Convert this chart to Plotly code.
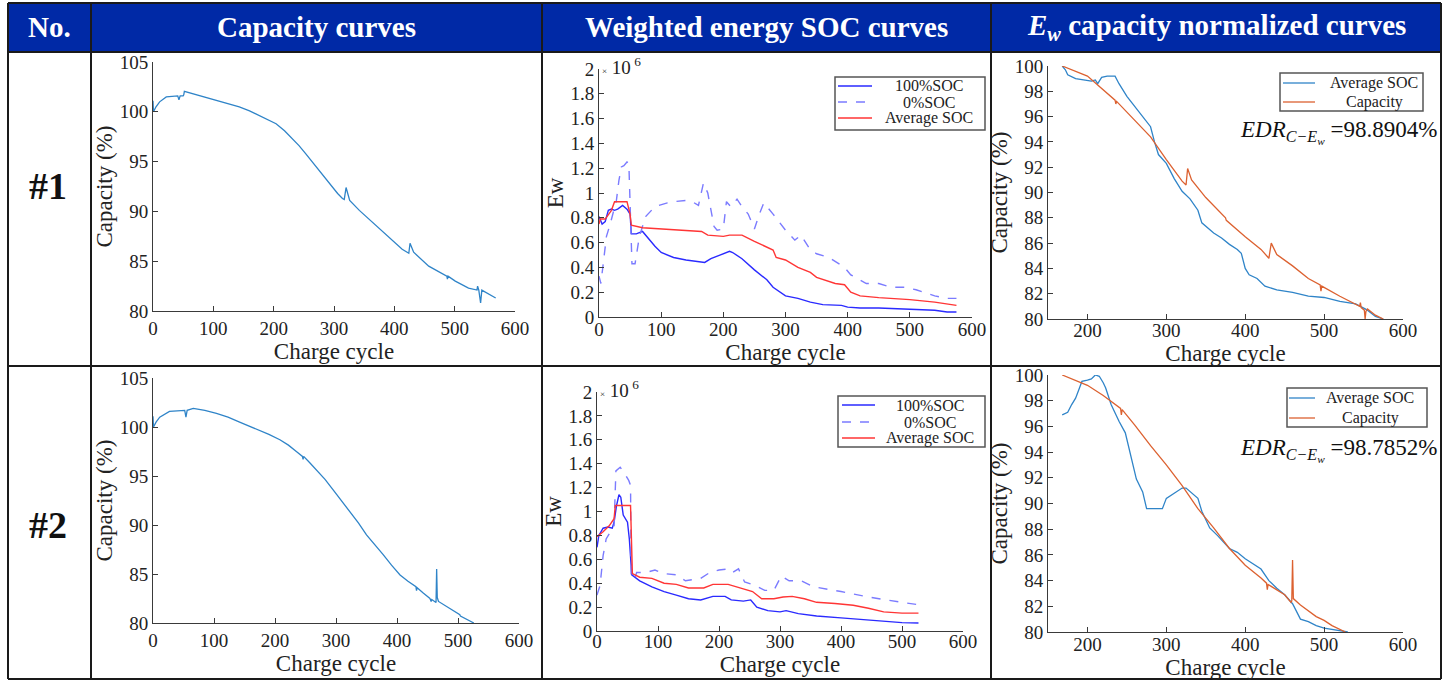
import plotly.graph_objects as go

W, H = 1453, 681

# ---------------- data ----------------
headers = ["No.", "Capacity curves", "Weighted energy SOC curves",
           "<i>E<sub>w</sub></i> capacity normalized curves"]
row_labels = ["#1", "#2"]
ew_names = ["100%SOC", "0%SOC", "Average SOC"]
norm_names = ["Average SOC", "Capacity"]

# Panel: capacity curves (%)
cap1_cycle = [0, 0.8, 5, 11, 22, 35, 41, 43, 45, 50, 51, 52, 61, 80, 105, 125, 143, 160, 176, 190,
              204, 218, 231, 242, 253, 264, 275.5, 286, 297.5, 306, 314, 317, 320, 323, 326, 342,
              369, 391, 413, 424, 426, 428, 432, 457, 487, 488, 489, 501, 523, 537, 538, 540, 543,
              545, 556, 568]
cap1_val = [101.1, 100.0, 100.5, 101.0, 101.5, 101.6, 101.6, 101.2, 101.6, 101.6, 101.7, 102.05,
            101.9, 101.6, 101.2, 100.85, 100.5, 100.1, 99.65, 99.25, 98.8, 98.1, 97.3, 96.6, 95.8,
            94.95, 94.1, 93.25, 92.4, 91.8, 91.3, 91.2, 92.4, 91.6, 91.1, 90.1, 88.6, 87.4, 86.2,
            85.8, 86.8, 86.5, 85.9, 84.5, 83.5, 83.2, 83.5, 83.0, 82.3, 82.1, 82.5, 82.1, 80.8,
            82.1, 81.7, 81.3]

cap2_cycle = [0, 0.8, 5, 11, 27, 45, 52, 54, 56, 66, 85, 104, 123, 142, 158, 175, 190, 208, 222,
              235, 245, 246, 247, 257, 268, 282, 295, 309, 323, 337, 350, 364, 377, 391, 405, 418,
              431, 432, 433, 443, 454, 456, 457, 464, 465, 466, 468, 486, 503, 504, 514, 526]
cap2_val = [101.1, 100.0, 100.5, 101.0, 101.6, 101.7, 101.7, 101.0, 101.7, 101.9, 101.7, 101.4,
            101.0, 100.5, 100.1, 99.7, 99.25, 98.7, 98.15, 97.5, 97.0, 96.7, 97.0, 96.35, 95.6,
            94.65, 93.6, 92.5, 91.4, 90.2, 89.0, 88.0, 87.0, 85.9, 84.9, 84.25, 83.7, 83.3, 83.6,
            83.05, 82.5, 82.2, 82.4, 82.1, 85.5, 82.6, 82.2, 81.5, 80.85, 80.7, 80.4, 80.0]

# Panel: weighted energy SOC curves (x10^6)
ew1_100_cycle = [0, 5, 10, 15, 20, 25, 30, 38, 45, 50, 52, 60, 70, 80, 90, 100, 120, 140, 160, 170,
                 180, 200, 210, 215, 230, 250, 270, 280, 300, 320, 340, 360, 390, 400, 420, 450,
                 500, 540, 560, 575]
ew1_100 = [0.81, 0.75, 0.77, 0.86, 0.87, 0.86, 0.87, 0.90, 0.87, 0.83, 0.67, 0.67, 0.69, 0.63,
           0.57, 0.52, 0.48, 0.46, 0.45, 0.44, 0.47, 0.51, 0.53, 0.52, 0.47, 0.38, 0.30, 0.24,
           0.17, 0.15, 0.12, 0.10, 0.094, 0.08, 0.073, 0.073, 0.062, 0.054, 0.04, 0.04]
ew1_0_cycle = [0, 3, 8, 12, 18, 22, 28, 32, 36, 40, 45, 48, 50, 53, 58, 65, 75, 90, 110, 120, 140,
               150, 160, 168, 175, 185, 190, 200, 205, 212, 222, 230, 240, 250, 258, 265, 280,
               300, 315, 325, 340, 350, 370, 385, 395, 405, 430, 450, 470, 490, 510, 540, 560, 575]
ew1_0 = [0.33, 0.27, 0.48, 0.65, 0.75, 0.83, 0.94, 1.10, 1.21, 1.22, 1.25, 1.24, 0.97, 0.43, 0.43,
         0.65, 0.81, 0.89, 0.92, 0.93, 0.94, 0.93, 0.90, 1.08, 1.00, 0.73, 0.70, 0.71, 0.93, 0.89,
         0.95, 0.89, 0.83, 0.71, 0.83, 0.92, 0.83, 0.70, 0.62, 0.66, 0.54, 0.51, 0.48, 0.43, 0.40,
         0.34, 0.27, 0.27, 0.24, 0.24, 0.22, 0.17, 0.15, 0.15]
ew1_avg_cycle = [0, 2, 10, 20, 25, 45, 50, 52, 70, 100, 150, 165, 175, 200, 210, 230, 250, 280, 285,
                 300, 320, 340, 350, 380, 395, 405, 420, 450, 500, 540, 575]
ew1_avg = [0.75, 0.79, 0.79, 0.86, 0.93, 0.93, 0.83, 0.74, 0.72, 0.71, 0.69, 0.69, 0.66, 0.65,
           0.66, 0.66, 0.61, 0.54, 0.48, 0.46, 0.40, 0.36, 0.32, 0.27, 0.26, 0.20, 0.17, 0.156,
           0.14, 0.12, 0.094]

ew2_100_cycle = [0, 3, 10, 18, 25, 28, 32, 36, 39, 43, 50, 53, 57, 70, 90, 110, 130, 150, 170, 190,
                 210, 220, 240, 252, 262, 280, 300, 310, 330, 360, 400, 450, 500, 527]
ew2_100 = [0.70, 0.80, 0.86, 0.87, 0.86, 0.91, 1.05, 1.14, 1.12, 0.97, 0.91, 0.77, 0.47, 0.42,
           0.37, 0.33, 0.30, 0.27, 0.26, 0.29, 0.29, 0.26, 0.25, 0.26, 0.20, 0.17, 0.16, 0.17,
           0.145, 0.125, 0.11, 0.09, 0.07, 0.067]
ew2_0_cycle = [0, 5, 10, 15, 22, 28, 31, 38, 45, 52, 55, 56, 62, 65, 80, 95, 110, 130, 145, 170,
               185, 200, 215, 222, 232, 242, 260, 275, 290, 302, 315, 335, 355, 380, 400, 420,
               450, 500, 527]
ew2_0 = [0.30, 0.38, 0.63, 0.77, 0.83, 0.88, 1.34, 1.37, 1.32, 1.26, 1.22, 0.44, 0.44, 0.49, 0.49,
         0.51, 0.48, 0.47, 0.42, 0.44, 0.49, 0.51, 0.52, 0.49, 0.52, 0.41, 0.38, 0.34, 0.34, 0.46,
         0.42, 0.42, 0.37, 0.35, 0.33, 0.31, 0.28, 0.24, 0.22]
ew2_avg_cycle = [0, 10, 20, 28, 30, 55, 58, 70, 90, 110, 130, 150, 175, 190, 215, 235, 255, 270,
                 290, 305, 320, 340, 360, 390, 420, 445, 470, 500, 527]
ew2_avg = [0.79, 0.83, 0.88, 0.94, 1.05, 1.05, 0.48, 0.45, 0.44, 0.40, 0.39, 0.36, 0.36, 0.39,
           0.39, 0.36, 0.33, 0.27, 0.27, 0.285, 0.29, 0.27, 0.24, 0.23, 0.215, 0.19, 0.16, 0.15,
           0.15]

# Panel: Ew capacity normalized curves (%)
n1_avg_cycle = [168, 172, 175, 185, 195, 205, 210, 213, 218, 225, 235, 240, 250, 260, 270, 280, 285,
                290, 300, 310, 320, 330, 340, 345, 360, 370, 380, 390, 395, 400, 405, 415, 425,
                440, 460, 480, 500, 520, 540, 555, 565, 575]
n1_avg = [100.0, 99.7, 99.3, 99.0, 98.9, 98.8, 98.9, 98.6, 99.1, 99.2, 99.2, 98.6, 97.6, 96.8,
          96.0, 95.2, 94.0, 93.0, 92.3, 91.1, 90.1, 89.5, 88.6, 87.6, 86.8, 86.4, 85.9, 85.5,
          85.2, 84.0, 83.5, 83.2, 82.6, 82.3, 82.1, 81.8, 81.7, 81.4, 81.2, 80.7, 80.2, 80.0]
n1_cap_cycle = [168, 200, 235, 236, 237, 260, 280, 300, 320, 325, 327, 332, 350, 375, 376, 400,
                420, 430, 433, 440, 460, 480, 495, 496, 497, 520, 545, 546, 547, 551, 552, 553,
                555, 565, 575]
n1_cap = [100.0, 99.2, 97.3, 97.0, 97.2, 95.7, 94.4, 92.6, 90.9, 90.6, 91.9, 91.0, 89.6, 88.0,
          87.8, 86.5, 85.5, 84.8, 86.0, 85.1, 84.2, 83.2, 82.7, 82.2, 82.6, 81.8, 81.0, 81.3,
          80.9, 80.7, 80.0, 80.6, 80.8, 80.3, 80.0]

n2_avg_cycle = [168, 175, 180, 185, 190, 193, 200, 205, 210, 215, 220, 223, 230, 240, 248, 255, 262,
                270, 275, 295, 300, 310, 320, 325, 340, 345, 355, 365, 380, 390, 400, 420, 430,
                440, 450, 460, 470, 480, 490, 500, 520, 530]
n2_avg = [96.9, 97.1, 97.7, 98.2, 99.0, 99.5, 99.6, 99.7, 100.0, 99.9, 99.4, 99.0, 97.7, 96.4,
          95.5, 93.8, 91.9, 90.9, 89.6, 89.6, 90.4, 90.8, 91.2, 91.2, 90.4, 89.4, 88.1, 87.5,
          86.5, 86.2, 85.7, 84.9, 84.0, 83.4, 82.9, 82.2, 81.0, 80.8, 80.5, 80.3, 80.1, 80.0]
n2_cap_cycle = [168, 200, 220, 242, 243, 244, 260, 280, 300, 320, 340, 360, 380, 400, 420, 427,
                428, 429, 450, 458, 459, 460, 461, 470, 490, 500, 510, 527]
n2_cap = [100.0, 99.2, 98.4, 97.4, 96.9, 97.3, 96.1, 94.5, 93.0, 91.4, 89.6, 88.1, 86.5, 85.2,
          84.2, 83.8, 83.3, 83.7, 82.9, 82.3, 82.4, 85.6, 82.6, 82.1, 81.2, 80.9, 80.5, 80.0]

edr_values = ["98.8904%", "98.7852%"]

# ---------------- helpers ----------------
def fx(px):
    return px / W

def fy(py):
    return 1 - py / H

SERIF = "Liberation Serif"
AXC = "#3a3a3a"

def axis(d0, d1, rng, dtick, title, anchor, standoff, label_shift=None):
    a = dict(
        domain=[d0, d1], range=rng, dtick=dtick, tick0=0, anchor=anchor,
        showline=True, linecolor=AXC, linewidth=1, mirror=False,
        ticks="inside", ticklen=5, tickcolor=AXC, tickwidth=1,
        showgrid=False, zeroline=False, fixedrange=True,
        tickfont=dict(family=SERIF, size=19, color="#222"),
        title=dict(text=title, font=dict(family=SERIF, size=23, color="#222"),
                   standoff=standoff),
        automargin=False,
    )
    if label_shift is not None:
        a["ticklabelstandoff"] = label_shift
    return a

fig = go.Figure()

CAP_BLUE = "#2f84c8"
ORANGE = "#dc6130"
BLUE = "#2a2aff"
LBLUE = "#7b7bff"
RED = "#ff3535"
ew_styles = [dict(color=BLUE, width=1.4), dict(color=LBLUE, width=1.4, dash="dash"),
             dict(color=RED, width=1.4)]
norm_styles = [dict(color=CAP_BLUE, width=1.3), dict(color=ORANGE, width=1.3)]

def add(x, y, line, ax):
    fig.add_trace(go.Scatter(x=x, y=y, mode="lines", line=line, xaxis="x" + ax, yaxis="y" + ax,
                             showlegend=False, hoverinfo="x+y"))

add(cap1_cycle, cap1_val, dict(color=CAP_BLUE, width=1.3), "")
for (cx, cy), st in zip([(ew1_100_cycle, ew1_100), (ew1_0_cycle, ew1_0), (ew1_avg_cycle, ew1_avg)], ew_styles):
    add(cx, cy, st, "2")
for (cx, cy), st in zip([(n1_avg_cycle, n1_avg), (n1_cap_cycle, n1_cap)], norm_styles):
    add(cx, cy, st, "3")
add(cap2_cycle, cap2_val, dict(color=CAP_BLUE, width=1.3), "4")
for (cx, cy), st in zip([(ew2_100_cycle, ew2_100), (ew2_0_cycle, ew2_0), (ew2_avg_cycle, ew2_avg)], ew_styles):
    add(cx, cy, st, "5")
for (cx, cy), st in zip([(n2_avg_cycle, n2_avg), (n2_cap_cycle, n2_cap)], norm_styles):
    add(cx, cy, st, "6")

layout = dict(
    width=W, height=H, margin=dict(l=0, r=0, t=0, b=0),
    paper_bgcolor="white", plot_bgcolor="white", showlegend=False,
    font=dict(family=SERIF, color="#222"),
    xaxis=axis(fx(153), fx(515), [0, 600], 100, "Charge cycle", "y", 0, 0),
    yaxis=axis(fy(311), fy(62), [80, 105], 5, "Capacity (%)", "x", 0),
    xaxis2=axis(fx(599), fx(972), [0, 600], 100, "Charge cycle", "y2", 0, -5),
    yaxis2=axis(fy(317), fy(69), [0, 2], 0.2, "Ew", "x2", 0),
    xaxis3=axis(fx(1048), fx(1403), [150, 600], 100, "Charge cycle", "y3", 0, -6),
    yaxis3=axis(fy(319), fy(66), [80, 100], 2, "Capacity (%)", "x3", 0),
    xaxis4=axis(fx(153), fx(519), [0, 600], 100, "Charge cycle", "y4", 0, 0),
    yaxis4=axis(fy(623), fy(378), [80, 105], 5, "Capacity (%)", "x4", 0),
    xaxis5=axis(fx(597), fx(963), [0, 600], 100, "Charge cycle", "y5", 1, -7),
    yaxis5=axis(fy(631), fy(392), [0, 2], 0.2, "Ew", "x5", 0),
    xaxis6=axis(fx(1048), fx(1403), [150, 600], 100, "Charge cycle", "y6", 0, -5),
    yaxis6=axis(fy(632), fy(375), [80, 100], 2, "Capacity (%)", "x6", 0),
)
fig.update_layout(**layout)

# ---------------- table frame ----------------
L, R, T, HB, RB, B = 8, 1441, 3, 52, 366, 679
cols = [L, 91, 542, 991, R]
shapes = [dict(type="rect", xref="paper", yref="paper", x0=fx(L), x1=fx(R), y0=fy(HB), y1=fy(T),
               fillcolor="#0029a6", line=dict(width=0), layer="below")]
LINE = dict(color="#1a1a1a", width=2)
for c in cols:
    shapes.append(dict(type="line", xref="paper", yref="paper", x0=fx(c), x1=fx(c), y0=fy(B), y1=fy(T),
                       line=LINE))
for r in [T, HB, RB, B]:
    shapes.append(dict(type="line", xref="paper", yref="paper", x0=fx(L), x1=fx(R), y0=fy(r), y1=fy(r),
                       line=LINE))

ann = []

# ---------------- legends (box, line samples, centred labels) ----------------
def legend(box, sample_x, text_cx, rows, names, styles):
    x0, y0, x1, y1 = box
    shapes.append(dict(type="rect", xref="paper", yref="paper", x0=fx(x0), x1=fx(x1), y0=fy(y1),
                       y1=fy(y0), line=dict(color="#555", width=1.5), fillcolor="white"))
    for yy, nm, st in zip(rows, names, styles):
        shapes.append(dict(type="line", xref="paper", yref="paper", x0=fx(sample_x[0]),
                           x1=fx(sample_x[1]), y0=fy(yy), y1=fy(yy),
                           line=dict(color=st["color"], width=st["width"],
                                     dash=st.get("dash", "solid"))))
        ann.append(dict(text=nm, x=fx(text_cx), y=fy(yy), xref="paper", yref="paper",
                        showarrow=False, xanchor="center", yanchor="middle",
                        font=dict(family=SERIF, size=16, color="#222")))

legend((835, 77, 985, 130), (838, 872), 929, [86, 102, 118], ew_names, ew_styles)
legend((838, 396, 985, 447), (842, 875), 930, [405, 422, 438], ew_names, ew_styles)
legend((1280, 73, 1423, 111), (1283, 1315), 1374, [83, 102], norm_names, norm_styles)
legend((1287, 388, 1427, 427), (1289, 1315), 1370, [398, 418], norm_names, norm_styles)
fig.update_layout(shapes=shapes)

for i, h in enumerate(headers):
    cx = (cols[i] + cols[i + 1]) / 2
    ann.append(dict(text="<b>" + h + "</b>", x=fx(cx), y=fy(27), xref="paper", yref="paper",
                    showarrow=False, xanchor="center", yanchor="middle",
                    font=dict(family=SERIF, size=29, color="white")))
for lab, yy in zip(row_labels, [186, 525]):
    ann.append(dict(text="<b>" + lab + "</b>", x=fx(48), y=fy(yy), xref="paper", yref="paper",
                    showarrow=False, xanchor="center", yanchor="middle",
                    font=dict(family=SERIF, size=38, color="#111")))
for xx, yy in [(600, 66), (598, 389)]:
    ann.append(dict(text="<span style='font-size:9px'>×</span> 10<sup> 6</sup>", x=fx(xx), y=fy(yy),
                    xref="paper", yref="paper", showarrow=False, xanchor="left", yanchor="middle",
                    font=dict(family=SERIF, size=19, color="#222")))
for val, yy in zip(edr_values, [132, 450]):
    ann.append(dict(text="<i>EDR</i><sub><i>C−E<sub>w</sub></i></sub> =" + val, x=fx(1439), y=fy(yy),
                    xref="paper", yref="paper", showarrow=False, xanchor="right", yanchor="middle",
                    font=dict(family=SERIF, size=23, color="#111")))
fig.update_layout(annotations=ann)

fig.write_html("out.html")
